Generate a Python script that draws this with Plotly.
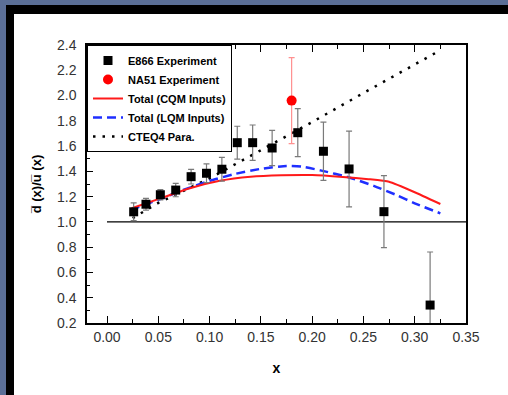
import plotly.graph_objects as go

# ---------------- data ----------------
e866_x = [0.026, 0.038, 0.052, 0.067, 0.082, 0.097, 0.112, 0.127, 0.142, 0.161, 0.186, 0.211, 0.236, 0.270, 0.315]
e866_y = [1.08, 1.14, 1.215, 1.252, 1.358, 1.385, 1.417, 1.627, 1.627, 1.585, 1.706, 1.559, 1.419, 1.081, 0.342]
e866_err = [0.07, 0.047, 0.04, 0.053, 0.058, 0.074, 0.094, 0.13, 0.14, 0.14, 0.19, 0.23, 0.30, 0.285, 0.42]

na51_x = [0.18]
na51_y = [1.96]
na51_err = [0.34]

cqm_x = [0.024, 0.05, 0.08, 0.11, 0.14, 0.17, 0.20, 0.23, 0.255, 0.275, 0.30, 0.325]
cqm_y = [1.108, 1.18, 1.265, 1.325, 1.357, 1.369, 1.371, 1.356, 1.338, 1.318, 1.235, 1.142]

lqm_x = [0.023, 0.05, 0.075, 0.10, 0.125, 0.15, 0.175, 0.19, 0.208, 0.236, 0.26, 0.283, 0.30, 0.325]
lqm_y = [1.095, 1.175, 1.255, 1.325, 1.38, 1.42, 1.443, 1.437, 1.408, 1.352, 1.285, 1.21, 1.147, 1.068]

cteq_x = [0.025, 0.05, 0.10, 0.15, 0.20, 0.25, 0.30, 0.322]
cteq_y = [1.03, 1.15, 1.345, 1.565, 1.79, 2.02, 2.245, 2.345]

ref_x = [0.0, 0.35]
ref_y = [1.0, 1.0]

x_ticks = [0.00, 0.05, 0.10, 0.15, 0.20, 0.25, 0.30, 0.35]
y_ticks = [0.2, 0.4, 0.6, 0.8, 1.0, 1.2, 1.4, 1.6, 1.8, 2.0, 2.2, 2.4]

# ---------------- layout geometry ----------------
W, H = 508, 395
ML, MR, MT, MB = 87, 42, 45, 72
PW = W - ML - MR
PH = H - MT - MB


def pxx(px):
    return (px - ML) / PW


def pyy(py):
    return (H - MB - py) / PH


FONT = "Liberation Sans, Arial, sans-serif"

fig = go.Figure()

fig.add_trace(go.Scatter(x=ref_x, y=ref_y, mode="lines", line=dict(color="black", width=1.2),
                         showlegend=False, hoverinfo="skip"))
fig.add_trace(go.Scatter(x=cteq_x, y=cteq_y, mode="lines", name="CTEQ4 Para.", legendrank=5,
                         line=dict(color="black", width=2.5, dash="2.5px,7px")))
fig.add_trace(go.Scatter(x=lqm_x, y=lqm_y, mode="lines", name="Total (LQM Inputs)", legendrank=4,
                         line=dict(color="#1f2fff", width=2.5, dash="9px,5px", shape="spline", smoothing=0.5)))
fig.add_trace(go.Scatter(x=cqm_x, y=cqm_y, mode="lines", name="Total (CQM Inputs)", legendrank=3,
                         line=dict(color="#ff1a1a", width=2, shape="spline", smoothing=0.4)))
fig.add_trace(go.Scatter(x=na51_x, y=na51_y, mode="markers", name="NA51 Experiment", legendrank=2,
                         marker=dict(symbol="circle", size=10, color="#ff0000"),
                         error_y=dict(type="data", array=na51_err, color="#ff9090", thickness=1.2, width=3)))
fig.add_trace(go.Scatter(x=e866_x, y=e866_y, mode="markers", name="E866 Experiment", legendrank=1,
                         marker=dict(symbol="square", size=9, color="black"),
                         error_y=dict(type="data", array=e866_err, color="#7a7a7a", thickness=1.2, width=3)))

shapes = [
    dict(type="rect", xref="paper", yref="paper", x0=pxx(6), x1=pxx(W + 5), y0=pyy(H + 5), y1=pyy(5),
         fillcolor="black", line=dict(width=0), layer="below"),
    dict(type="rect", xref="paper", yref="paper", x0=pxx(14), x1=pxx(W + 5), y0=pyy(H + 5), y1=pyy(14),
         fillcolor="white", line=dict(width=0), layer="below"),
]

fig.update_layout(
    width=W, height=H,
    margin=dict(l=ML, r=MR, t=MT, b=MB),
    paper_bgcolor="#5b6f97",
    plot_bgcolor="white",
    shapes=shapes,
    font=dict(family=FONT, size=14, color="#333333"),
    legend=dict(x=0, y=1, xanchor="left", yanchor="top", bgcolor="white",
                bordercolor="black", borderwidth=1,
                font=dict(family=FONT, size=11, color="black", weight="bold")),
    xaxis=dict(range=[-0.0195, 0.35], tickvals=x_ticks, tickformat=".2f",
               ticks="inside", ticklen=7, tickwidth=1.2, tickcolor="black",
               minor=dict(dtick=0.025, tick0=0, ticks="inside", ticklen=4, tickcolor="black"),
               showline=True, linecolor="black", linewidth=1.5, mirror="ticks",
               showgrid=False, zeroline=False,
               tickfont=dict(family=FONT, size=14, color="#333333"),
               title=dict(text="x", standoff=20,
                          font=dict(family=FONT, size=14, color="black", weight="bold"))),
    yaxis=dict(range=[0.2, 2.4], tickvals=y_ticks, tickformat=".1f",
               ticks="inside", ticklen=6, tickwidth=1.2, tickcolor="black",
               minor=dict(dtick=0.1, tick0=0.2, ticks="inside", ticklen=3, tickcolor="black"),
               showline=True, linecolor="black", linewidth=1.5, mirror=True,
               showgrid=False, zeroline=False, ticklabelstandoff=6,
               tickfont=dict(family=FONT, size=14, color="#333333"),
               title=dict(text="d\u0305 (x)/u\u0305 (x)", standoff=12,
                          font=dict(family=FONT, size=13, color="black", weight="bold"))),
)

fig.write_html("out.html", config={"displayModeBar": False},
               post_script="document.body.style.margin='0';document.body.style.background='#5b6f97';")
